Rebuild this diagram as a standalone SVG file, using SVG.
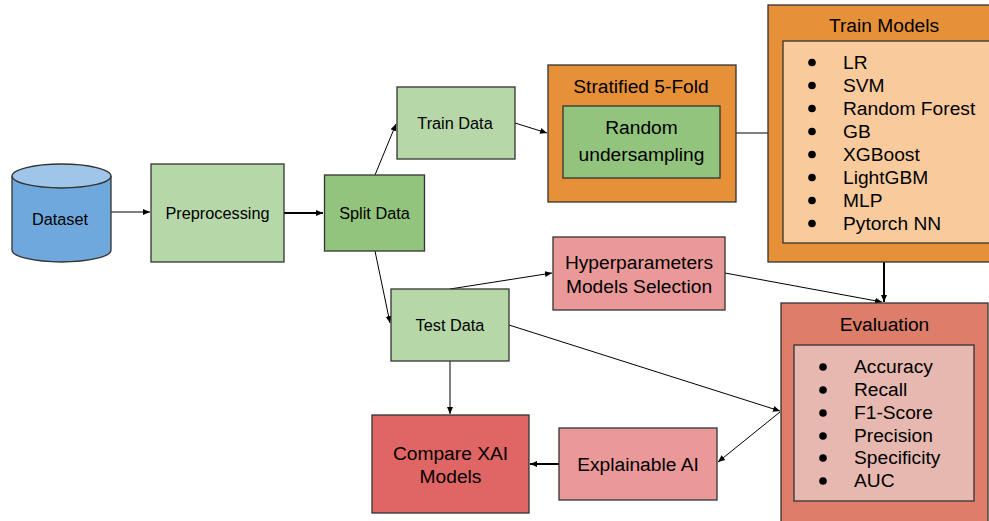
<svg xmlns="http://www.w3.org/2000/svg" width="989" height="521" viewBox="0 0 989 521">
<style>
text{font-family:"Liberation Sans",Arial,sans-serif;fill:#000;}
.n{stroke:#333;stroke-width:1.3;}
.c{stroke:#000;stroke-width:1;fill:none;}
.t{stroke:#000;stroke-width:2;fill:none;}
.m{text-anchor:middle;}
.s{font-size:16.3px;}
.l{font-size:19.2px;}
</style>
<defs>
<marker id="a" markerWidth="8" markerHeight="8" refX="7" refY="4" orient="auto" markerUnits="userSpaceOnUse"><path d="M0,1 L7,4 L0,7 Z" fill="#000"/></marker>
<marker id="b" markerWidth="8" markerHeight="8" refX="7" refY="4" orient="auto" markerUnits="userSpaceOnUse"><path d="M0,1 L7,4 L0,7 Z" fill="#000"/></marker>
</defs>
<rect width="989" height="521" fill="#fff"/>
<g id="connectors">
<line class="c" x1="111" y1="212" x2="150" y2="212" marker-end="url(#a)"/>
<line class="t" x1="284" y1="213" x2="323" y2="213" marker-end="url(#b)"/>
<line class="c" x1="375" y1="175" x2="396" y2="124" marker-end="url(#a)"/>
<line class="c" x1="515" y1="123" x2="547" y2="133" marker-end="url(#a)"/>
<line class="c" x1="736" y1="133" x2="768" y2="133"/>
<line class="c" x1="375" y1="251" x2="390" y2="323" marker-end="url(#a)"/>
<line class="c" x1="450" y1="289" x2="552" y2="273" marker-end="url(#a)"/>
<line class="c" x1="725" y1="273" x2="882" y2="302" marker-end="url(#a)"/>
<line class="t" x1="884" y1="262" x2="884" y2="302" marker-end="url(#b)"/>
<line class="c" x1="509" y1="325" x2="780" y2="411" marker-end="url(#a)"/>
<line class="c" x1="780" y1="412" x2="718" y2="462" marker-end="url(#a)"/>
<line class="c" x1="450" y1="361" x2="450" y2="414" marker-end="url(#a)"/>
<line class="t" x1="559" y1="464" x2="530" y2="464" marker-end="url(#b)"/>
</g>
<g id="dataset">
<path class="n" d="M12,176 L12,250 A49.5,12 0 0 0 111,250 L111,176" fill="#6fa8dc"/>
<ellipse class="n" cx="61.5" cy="176" rx="49.5" ry="12" fill="#9fc5e8"/>
<text class="m s" x="60" y="225">Dataset</text>
</g>
<g id="preprocessing">
<rect class="n" x="151" y="164" width="133" height="98" fill="#b6d7a8"/>
<text class="m s" x="217.5" y="219">Preprocessing</text>
</g>
<g id="split">
<rect class="n" x="324.5" y="175" width="100" height="76" fill="#93c47d"/>
<text class="m s" x="374.5" y="219">Split Data</text>
</g>
<g id="train">
<rect class="n" x="397" y="87" width="118" height="72" fill="#b6d7a8"/>
<text class="m s" x="455" y="129">Train Data</text>
</g>
<g id="stratified">
<rect class="n" x="548" y="65" width="188" height="137" fill="#e69138"/>
<text class="m l" x="641" y="92.5">Stratified 5-Fold</text>
<rect class="n" x="563" y="106" width="157" height="72" fill="#93c47d"/>
<text class="m l" x="641.5" y="134">Random</text>
<text class="m l" x="641.5" y="161">undersampling</text>
</g>
<g id="trainmodels">
<rect class="n" x="768" y="5" width="230" height="257" fill="#e69138"/>
<text class="m l" x="884" y="32">Train Models</text>
<rect class="n" x="783" y="41" width="215" height="202" fill="#f9cb9c"/>
<g class="l">
<circle cx="812" cy="62.5" r="3.8"/><text x="843" y="69">LR</text>
<circle cx="812" cy="85.5" r="3.8"/><text x="843" y="92">SVM</text>
<circle cx="812" cy="108.5" r="3.8"/><text x="843" y="115">Random Forest</text>
<circle cx="812" cy="131.5" r="3.8"/><text x="843" y="138">GB</text>
<circle cx="812" cy="154.5" r="3.8"/><text x="843" y="161">XGBoost</text>
<circle cx="812" cy="177.5" r="3.8"/><text x="843" y="184">LightGBM</text>
<circle cx="812" cy="200.5" r="3.8"/><text x="843" y="207">MLP</text>
<circle cx="812" cy="223.5" r="3.8"/><text x="843" y="230">Pytorch NN</text>
</g>
</g>
<g id="test">
<rect class="n" x="391" y="289" width="118" height="72" fill="#b6d7a8"/>
<text class="m s" x="450" y="331">Test Data</text>
</g>
<g id="hyper">
<rect class="n" x="553" y="237" width="172" height="73" fill="#ea9999"/>
<text class="m l" x="639" y="269">Hyperparameters</text>
<text class="m l" x="639" y="292.5">Models Selection</text>
</g>
<g id="evaluation">
<rect class="n" x="781" y="303" width="207" height="225" fill="#dd7e6b"/>
<text class="m l" x="884.5" y="331">Evaluation</text>
<rect class="n" x="794" y="345" width="180" height="156" fill="#e6b8af"/>
<g class="l">
<circle cx="823" cy="367" r="3.8"/><text x="854" y="373">Accuracy</text>
<circle cx="823" cy="390" r="3.8"/><text x="854" y="396">Recall</text>
<circle cx="823" cy="413" r="3.8"/><text x="854" y="419">F1-Score</text>
<circle cx="823" cy="436" r="3.8"/><text x="854" y="442">Precision</text>
<circle cx="823" cy="458" r="3.8"/><text x="854" y="464">Specificity</text>
<circle cx="823" cy="481" r="3.8"/><text x="854" y="487">AUC</text>
</g>
</g>
<g id="compare">
<rect class="n" x="372" y="415" width="157" height="98" fill="#e06666"/>
<text class="m l" x="450.5" y="460">Compare XAI</text>
<text class="m l" x="450.5" y="483">Models</text>
</g>
<g id="xai">
<rect class="n" x="559" y="428" width="158" height="72" fill="#ea9999"/>
<text class="m l" x="638" y="470.5">Explainable AI</text>
</g>
</svg>
